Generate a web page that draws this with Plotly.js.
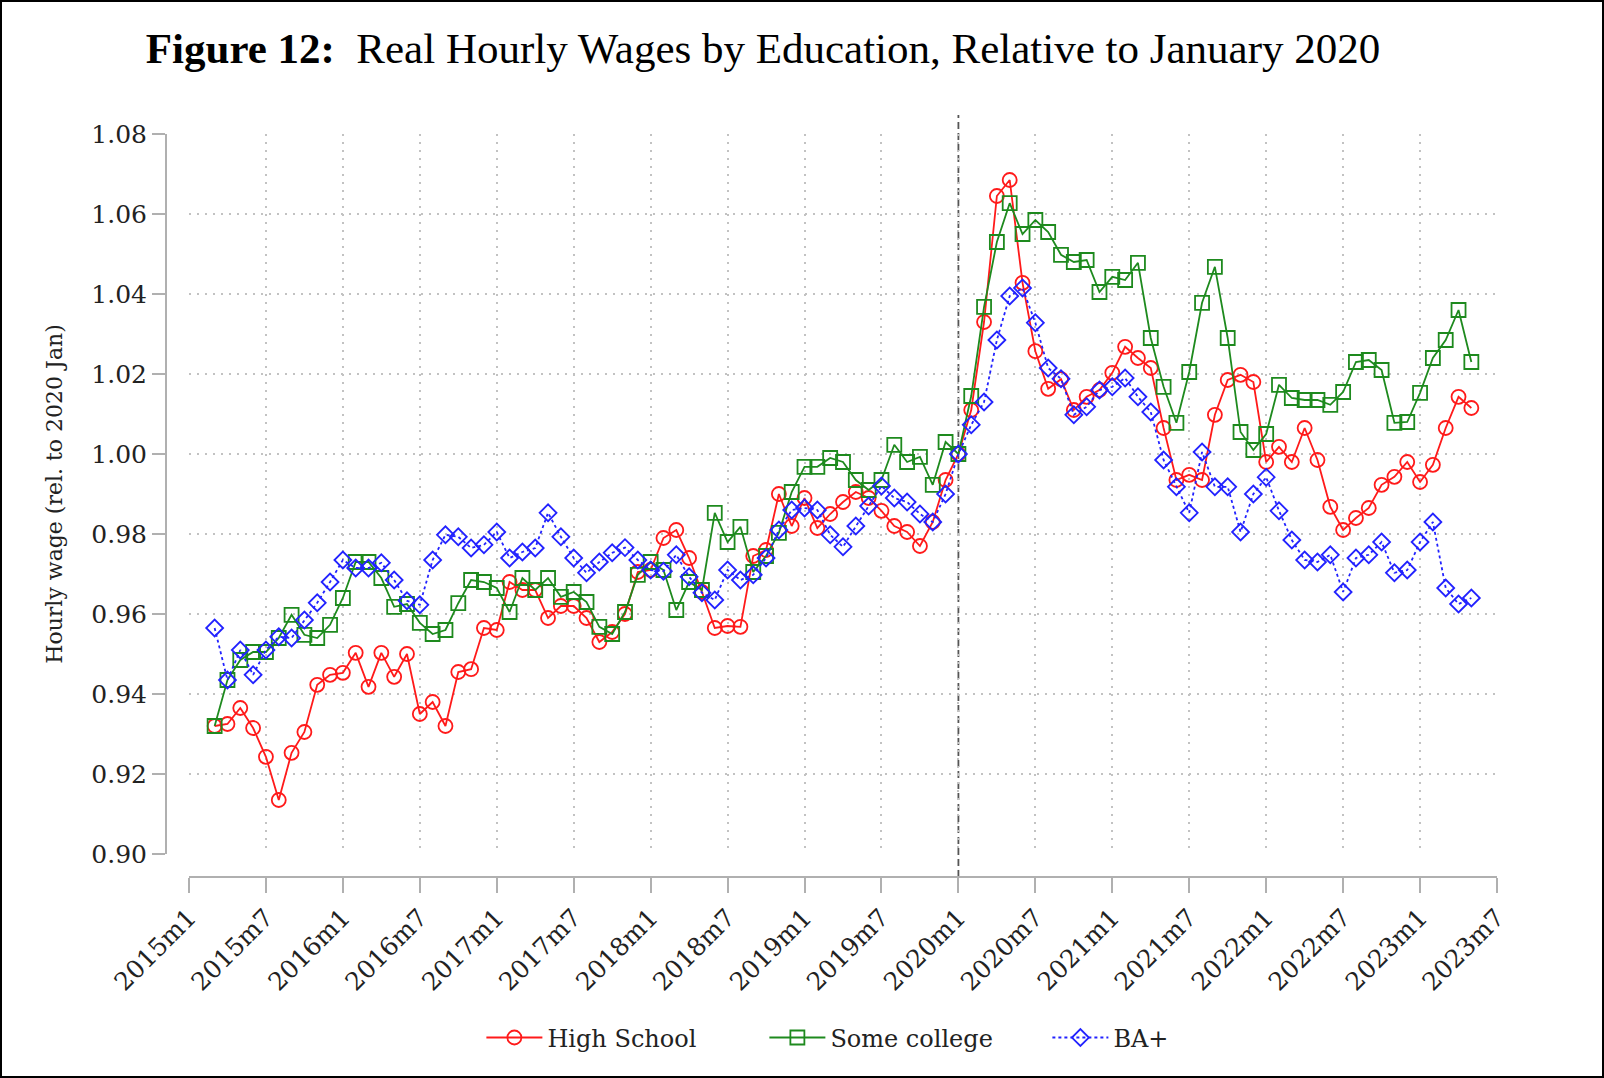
<!DOCTYPE html>
<html>
<head>
<meta charset="utf-8">
<script src="https://cdn.plot.ly/plotly-3.0.1.min.js"></script>
<style>
  body { margin: 0; background: #fff; }
  #wrap { position: relative; width: 1604px; height: 1078px; }
  #chart { width: 1604px; height: 1078px; }
  #frame { position: absolute; left: 0; top: 0; width: 1604px; height: 1078px;
           box-sizing: border-box; border: 2px solid #000; pointer-events: none; }
</style>
</head>
<body>
<div id="wrap"><div id="chart"></div><div id="frame"></div></div>
<script>
// months counted from 2015m1 = 0; series start at 2015m3
var first_month = 2;

var tick_labels = ['2015m1', '2015m7', '2016m1', '2016m7', '2017m1', '2017m7', '2018m1',
    '2018m7', '2019m1', '2019m7', '2020m1', '2020m7', '2021m1', '2021m7', '2022m1',
    '2022m7', '2023m1', '2023m7'];

// High School, 2015m3 .. 2023m5
var high_school = [
    0.9320, 0.9325, 0.9365, 0.9315, 0.9243, 0.9135, 0.9253, 0.9305, 0.9423, 0.9448,
    0.9453, 0.9503, 0.9418, 0.9503, 0.9443, 0.9500, 0.9350, 0.9380, 0.9320, 0.9455,
    0.9462, 0.9565, 0.9560, 0.9680, 0.9660, 0.9660, 0.9590, 0.9620, 0.9620, 0.9590,
    0.9530, 0.9555, 0.9600, 0.9705, 0.9710, 0.9790, 0.9810, 0.9740, 0.9655, 0.9565,
    0.9570, 0.9568, 0.9745, 0.9760, 0.9900, 0.9820, 0.9890, 0.9815, 0.9850, 0.9880,
    0.9905, 0.9890, 0.9858, 0.9820, 0.9805, 0.9770, 0.9830, 0.9935, 1.0000, 1.0110,
    1.0330, 1.0645, 1.0685, 1.0428, 1.0257, 1.0163, 1.0187, 1.0110, 1.0143, 1.0160,
    1.0203, 1.0268, 1.0240, 1.0215, 1.0065, 0.9935, 0.9948, 0.9935, 1.0098, 1.0185,
    1.0198, 1.0180, 0.9980, 1.0018, 0.9980, 1.0065, 0.9985, 0.9868, 0.9810, 0.9840,
    0.9865, 0.9923, 0.9943, 0.9980, 0.9930, 0.9973, 1.0065, 1.0143, 1.0115
];

// Some college
var some_college = [
    0.9320, 0.9435, 0.9485, 0.9505, 0.9505, 0.9540, 0.9598, 0.9548, 0.9540, 0.9573,
    0.9640, 0.9730, 0.9730, 0.9690, 0.9618, 0.9625, 0.9578, 0.9550, 0.9560, 0.9627,
    0.9685, 0.9680, 0.9665, 0.9605, 0.9690, 0.9660, 0.9690, 0.9643, 0.9655, 0.9630,
    0.9568, 0.9550, 0.9605, 0.9698, 0.9730, 0.9710, 0.9610, 0.9680, 0.9660, 0.9853,
    0.9780, 0.9818, 0.9705, 0.9745, 0.9803, 0.9905, 0.9968, 0.9968, 0.9990, 0.9980,
    0.9935, 0.9910, 0.9935, 1.0023, 0.9980, 0.9993, 0.9923, 1.0030, 1.0000, 1.0145,
    1.0368, 1.0530, 1.0627, 1.0550, 1.0585, 1.0555, 1.0498, 1.0480, 1.0485, 1.0405,
    1.0443, 1.0435, 1.0478, 1.0290, 1.0168, 1.0078, 1.0205, 1.0378, 1.0468, 1.0290,
    1.0055, 1.0010, 1.0050, 1.0173, 1.0140, 1.0135, 1.0135, 1.0123, 1.0155, 1.0230,
    1.0235, 1.0210, 1.0078, 1.0080, 1.0153, 1.0240, 1.0285, 1.0360, 1.0230
];

// BA+
var ba_plus = [
    0.9565, 0.9435, 0.9510, 0.9448, 0.9510, 0.9543, 0.9540, 0.9585, 0.9628, 0.9680,
    0.9735, 0.9715, 0.9715, 0.9728, 0.9685, 0.9633, 0.9623, 0.9735, 0.9798, 0.9793,
    0.9765, 0.9773, 0.9805, 0.9740, 0.9755, 0.9765, 0.9853, 0.9793, 0.9740, 0.9703,
    0.9730, 0.9753, 0.9766, 0.9735, 0.9710, 0.9707, 0.9748, 0.9693, 0.9653, 0.9635,
    0.9710, 0.9685, 0.9698, 0.9740, 0.9810, 0.9860, 0.9865, 0.9860, 0.9798, 0.9768,
    0.9820, 0.9870, 0.9920, 0.9890, 0.9880, 0.9850, 0.9830, 0.9900, 1.0000, 1.0073,
    1.0130, 1.0285, 1.0395, 1.0415, 1.0328, 1.0215, 1.0188, 1.0098, 1.0118, 1.0160,
    1.0168, 1.0190, 1.0143, 1.0105, 0.9985, 0.9918, 0.9853, 1.0005, 0.9918, 0.9918,
    0.9805, 0.9900, 0.9942, 0.9858, 0.9785, 0.9735, 0.9730, 0.9748, 0.9655, 0.9740,
    0.9748, 0.9780, 0.9703, 0.9710, 0.9780, 0.9830, 0.9665, 0.9625, 0.9640
];

function month_index(label) {
    var p = label.split('m');
    return (parseInt(p[0]) - 2015) * 12 + parseInt(p[1]) - 1;
}

var tick_pos = tick_labels.map(month_index);
var months = high_school.map((v, i) => first_month + i);

var serif = 'DejaVu Serif, serif';
var title_serif = 'Liberation Serif, Times New Roman, serif';
var axis_grey = '#b0b0b0';
var grid_grey = '#c2c2c2';

function series(name, y, color, symbol, size, dash) {
    return {
        x: months,
        y: y,
        name: name,
        mode: 'lines+markers',
        line: {color: color, width: 1.8, dash: dash},
        marker: {symbol: symbol, size: size, color: color, line: {color: color, width: 1.8}}
    };
}

var data = [
    series('High School', high_school, '#ff1a1a', 'circle-open', 14, 'solid'),
    series('Some college', some_college, '#1e8a1e', 'square-open', 14, 'solid'),
    series('BA+', ba_plus, '#2222ff', 'diamond-open', 13, 'dot')
];

var layout = {
    width: 1604,
    height: 1078,
    margin: {l: 100, r: 107, t: 134, b: 100},
    paper_bgcolor: '#fff',
    plot_bgcolor: '#fff',
    font: {family: serif, color: '#222'},
    title: {
        text: '<b>Figure 12:</b>  Real Hourly Wages by Education, Relative to January 2020',
        font: {family: title_serif, size: 43, color: '#000'},
        x: 0.4757, xref: 'container', xanchor: 'center',
        y: 0.9555, yref: 'container', yanchor: 'middle'
    },
    xaxis: {
        domain: [0.0637, 1],
        anchor: 'free',
        position: 0.1197,
        range: [0, 102],
        tickvals: tick_pos,
        ticktext: tick_labels,
        tickangle: -45,
        ticks: 'outside', ticklen: 15, tickwidth: 2, tickcolor: axis_grey,
        showline: true, linecolor: axis_grey, linewidth: 2,
        showgrid: true, gridcolor: grid_grey, griddash: '2px,6px', gridwidth: 1.6,
        zeroline: false,
        tickfont: {family: serif, size: 25, color: '#222'}
    },
    yaxis: {
        domain: [0.1469, 1],
        anchor: 'free',
        position: 0.04725,
        range: [0.9, 1.08],
        tick0: 0.9, dtick: 0.02, tickformat: '.2f',
        ticks: 'outside', ticklen: 13, tickwidth: 2, tickcolor: axis_grey,
        showline: true, linecolor: axis_grey, linewidth: 2,
        showgrid: true, gridcolor: grid_grey, griddash: '2px,6px', gridwidth: 1.6,
        zeroline: false,
        tickfont: {family: serif, size: 25, color: '#222'},
        title: {text: 'Hourly wage (rel. to 2020 Jan)', font: {family: serif, size: 22, color: '#222'}, standoff: 22}
    },
    shapes: [{
        type: 'line', layer: 'below',
        xref: 'x', x0: month_index('2020m1'), x1: month_index('2020m1'),
        yref: 'paper', y0: 0.1197, y1: 1.0225,
        line: {color: '#555', width: 1.8, dash: '7px,4px'}
    }],
    showlegend: true,
    legend: {
        orientation: 'h',
        x: 0.273, xanchor: 'left',
        y: -0.071, yanchor: 'middle',
        font: {family: serif, size: 24, color: '#222'},
        itemwidth: 56,
        entrywidth: 212
    }
};

Plotly.newPlot('chart', data, layout, {displayModeBar: false});
</script>
</body>
</html>
